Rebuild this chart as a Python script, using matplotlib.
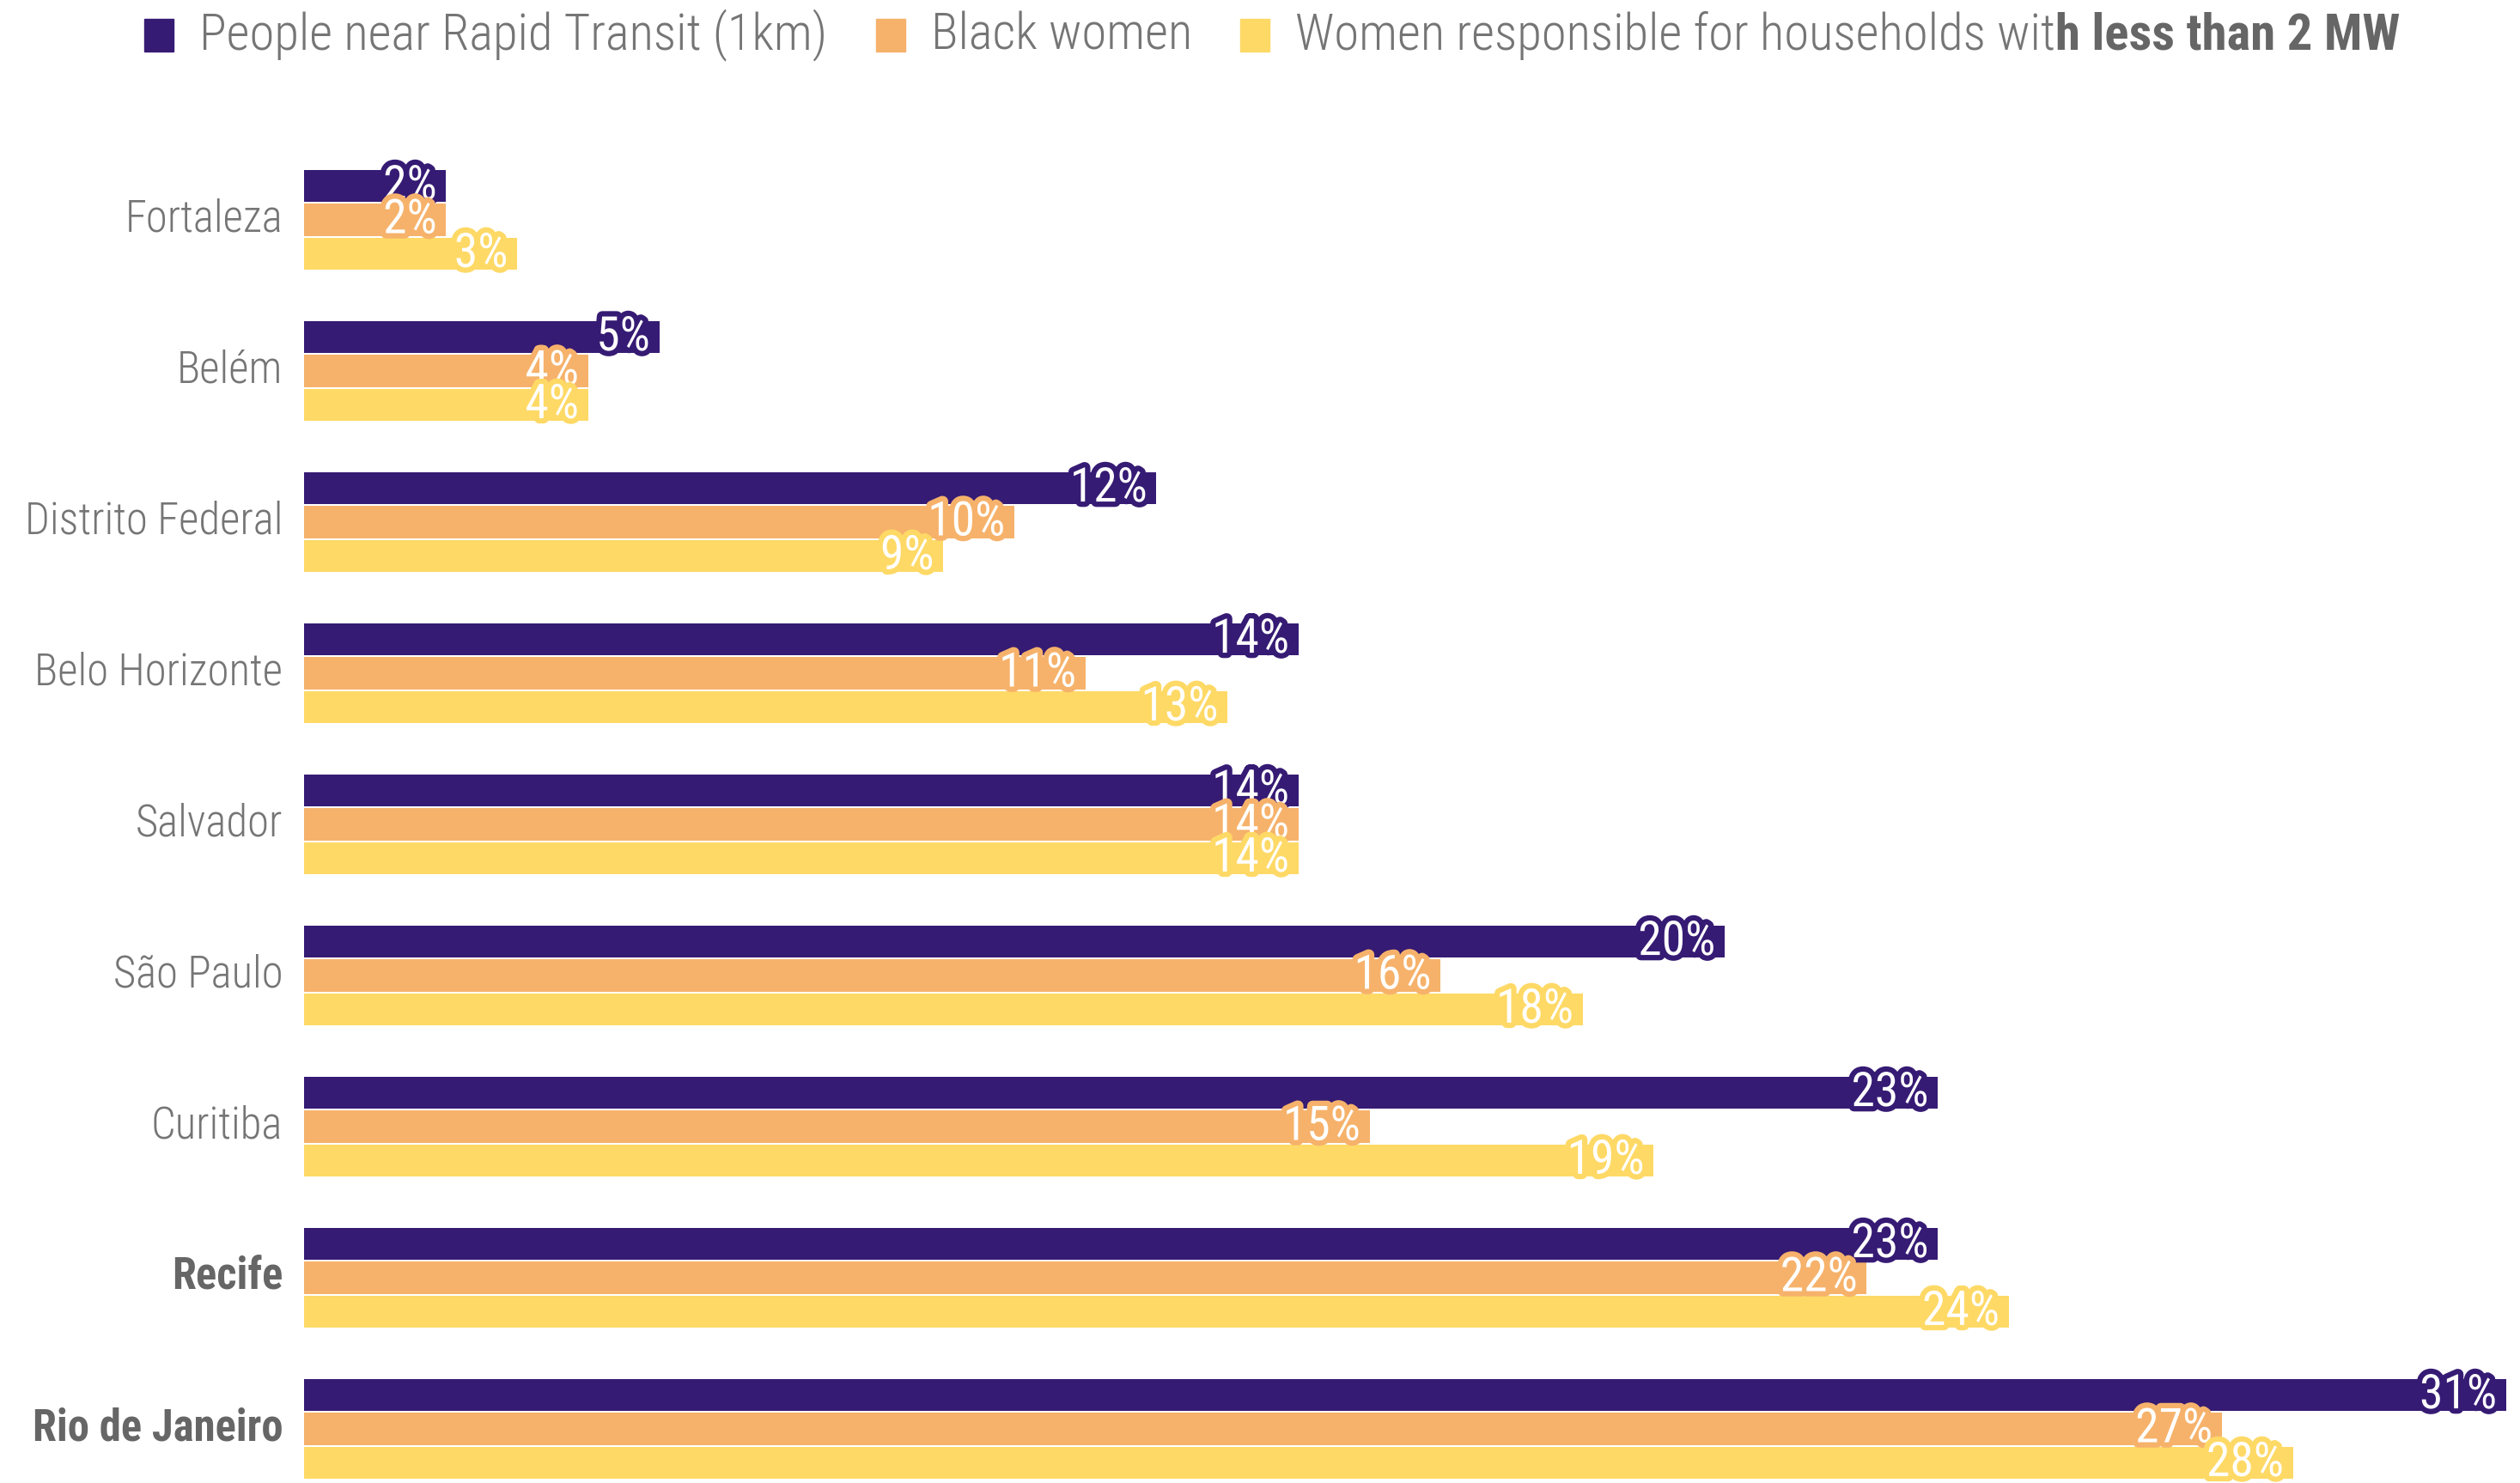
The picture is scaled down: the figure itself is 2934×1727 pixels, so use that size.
import matplotlib
matplotlib.use("Agg")
import matplotlib.pyplot as plt
import matplotlib.patheffects as pe
import numpy as np

cities = ["Fortaleza", "Belém", "Distrito Federal", "Belo Horizonte", "Salvador",
          "São Paulo", "Curitiba", "Recife", "Rio de Janeiro"]
rapid_transit = [2, 5, 12, 14, 14, 20, 23, 23, 31]
black_women = [2, 4, 10, 11, 14, 16, 15, 22, 27]
women_households = [3, 4, 9, 13, 14, 18, 19, 24, 28]

series_names = ["People near Rapid Transit (1km)", "Black women",
                "Women responsible for households wit"]
series_bold_tail = ["", "", "h less than 2 MW"]
colors = ["#361b74", "#f6b26b", "#fed966"]

FONT = ["Roboto Condensed", "Liberation Sans Narrow", "Roboto", "DejaVu Sans"]
GREY = "#757575"

W, H = 2934, 1727
fig = plt.figure(figsize=(W / 100, H / 100), dpi=100)
left = 354 / W
ax = fig.add_axes([left, 0, 1 - left, 1])

# pixel geometry: first group centre 256px from top, groups every 176px
pitch = 176
ax.set_ylim((H - 256) / pitch, -256 / pitch)
ax.set_xlim(0, (W - 354) / 82.7)
ax.axis("off")

y = np.arange(len(cities))
bar_h = 0.215
step = 0.224
all_series = [rapid_transit, black_women, women_households]

for k, vals in enumerate(all_series):
    yy = y + (k - 1) * step
    ax.barh(yy, vals, height=bar_h, color=colors[k], zorder=2)

for k, vals in enumerate(all_series):
    yy = y + (k - 1) * step
    for v, yi in zip(vals, yy):
        ax.text(v - 0.13, yi, f"{v}%", ha="right", va="center", fontsize=40,
                color="white", family=FONT, zorder=5,
                path_effects=[pe.Stroke(linewidth=9, foreground=colors[k]), pe.Normal()])

for i, c in enumerate(cities):
    bold = c in ("Recife", "Rio de Janeiro")
    ax.text(-0.3, i, c, ha="right", va="center", fontsize=36.5,
            color="#666666" if bold else GREY,
            family=FONT, fontweight="bold" if bold else "light", clip_on=False)

# legend drawn by hand so the bold tail can follow the normal text
fig.canvas.draw()
renderer = fig.canvas.get_renderer()
sq_x = [168, 1020, 1444]
ly = 1 - 41 / H
for k in range(3):
    fig.patches.append(plt.Rectangle((sq_x[k] / W, ly - 19 / H), 34 / W, 38 / H,
                                     transform=fig.transFigure, color=colors[k]))
    t = fig.text((sq_x[k] + 64) / W, ly, series_names[k], ha="left", va="center",
                 fontsize=42.3, color=GREY, family=FONT, fontweight="light")
    if series_bold_tail[k]:
        bb = t.get_window_extent(renderer)
        fig.text(bb.x1 / W, ly, series_bold_tail[k], ha="left", va="center",
                 fontsize=42.3, color="#666666", family=FONT, fontweight="bold")

fig.savefig("out.png", dpi=100, facecolor="white")
